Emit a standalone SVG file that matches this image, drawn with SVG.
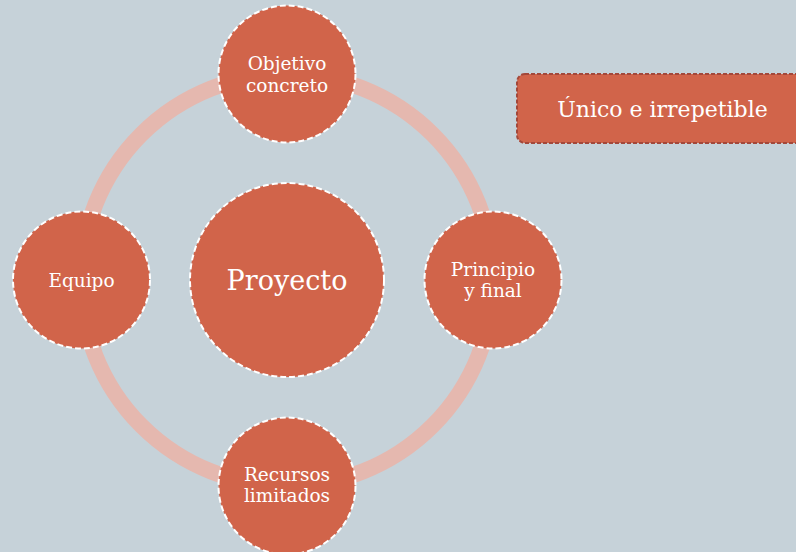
<svg xmlns="http://www.w3.org/2000/svg" width="796" height="552" viewBox="0 0 796 552">
<style>
.node{fill:#D1644A;stroke:#FFFFFF;stroke-width:2;stroke-dasharray:6 3}
.lbl{font-family:"DejaVu Serif","Liberation Serif",serif;fill:#FFFFFF;text-anchor:middle;font-size:18.5px}
.big{font-size:27px}
.ring{fill:none;stroke:#E5B8AF;stroke-width:16}
</style>
<rect x="0" y="0" width="796" height="552" fill="#C6D2D9"/>
<g id="connectors">
<circle class="ring" cx="287" cy="280" r="206"/>
</g>
<g id="n-proyecto">
<circle class="node" cx="287" cy="280" r="97"/>
<text class="lbl big" x="287" y="290">Proyecto</text>
</g>
<g id="n-objetivo">
<circle class="node" cx="287" cy="74" r="68.5"/>
<text class="lbl" x="287" y="70">Objetivo</text>
<text class="lbl" x="287" y="92">concreto</text>
</g>
<g id="n-principio">
<circle class="node" cx="493" cy="280" r="68.5"/>
<text class="lbl" x="493" y="276">Principio</text>
<text class="lbl" x="493" y="297">y final</text>
</g>
<g id="n-recursos">
<circle class="node" cx="287" cy="486" r="68.5"/>
<text class="lbl" x="287" y="481">Recursos</text>
<text class="lbl" x="287" y="502">limitados</text>
</g>
<g id="n-equipo">
<circle class="node" cx="81.5" cy="280" r="68.5"/>
<text class="lbl" x="81.5" y="287">Equipo</text>
</g>
<g id="n-unico">
<rect x="517" y="74" width="300" height="69" rx="8" fill="#D1644A" stroke="#A3483A" stroke-width="2" stroke-dasharray="4 2"/>
<text class="lbl" x="662.5" y="117" style="font-size:22px">Único e irrepetible</text>
</g>
</svg>
